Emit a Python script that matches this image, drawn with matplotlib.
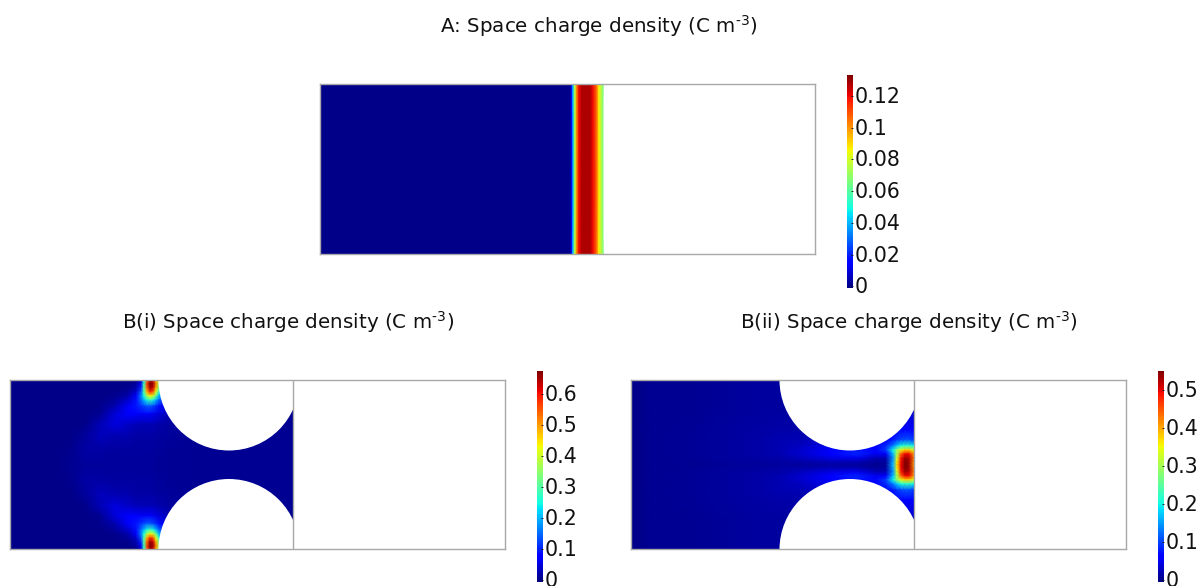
import numpy as np
import matplotlib
matplotlib.use('Agg')
import matplotlib.pyplot as plt
from matplotlib.patches import Circle
from matplotlib.transforms import ScaledTranslation

# DATA
title_a = r'A: Space charge density (C m$^{\text{-3}}$)'
title_b1 = r'B(i) Space charge density (C m$^{\text{-3}}$)'
title_b2 = r'B(ii) Space charge density (C m$^{\text{-3}}$)'

# panel A, charge profile along x (px from left of box), C/m3
a_x = [0, 250, 251, 252, 253, 255, 257, 259, 262, 270, 273, 277, 279, 283]
a_rho = [0, 0, 0.006, 0.018, 0.04, 0.076, 0.104, 0.12, 0.128, 0.128, 0.12, 0.104, 0.087, 0.066]
a_ticks = [0, 0.02, 0.04, 0.06, 0.08, 0.1, 0.12]
a_ticklabels = ['0', '0.02', '0.04', '0.06', '0.08', '0.1', '0.12']
a_max = 0.1333
a_low = -0.0011

# panel B(i), top half of the symmetric field as fraction of the peak
b1_x = [0, 45, 60, 75, 90, 105, 118, 126, 131, 134, 137, 140, 143, 146, 149, 160, 200, 283]
b1_y = [0, 4, 8, 12, 16, 20, 26, 34, 44, 56, 70, 85]
b1_frac = [
    [0, 0, 0, 0, 0, 0, 0, 0, .04, .38, .80, .97, .92, .70, .52, .20, .01, .01],
    [0, 0, 0, 0, 0, 0, 0, .02, .10, .42, .84, 1.0, .98, .78, .55, .20, .01, .01],
    [0, 0, 0, 0, 0, 0, .005, .03, .15, .45, .80, .97, .94, .72, .50, .18, .01, .01],
    [0, 0, 0, 0, 0, 0, .015, .06, .20, .44, .72, .86, .82, .62, .40, .15, .01, .01],
    [0, 0, 0, 0, 0, .005, .03, .10, .24, .38, .55, .64, .60, .46, .30, .12, .01, .01],
    [0, 0, 0, 0, 0, .015, .06, .13, .22, .30, .38, .42, .38, .30, .22, .10, .01, .01],
    [0, 0, 0, 0, .005, .03, .10, .14, .17, .19, .21, .21, .19, .16, .13, .07, .01, .01],
    [0, 0, 0, 0, .01, .07, .11, .11, .10, .10, .10, .10, .09, .08, .07, .035, .01, .01],
    [0, 0, 0, 0, .04, .075, .055, .045, .04, .04, .04, .04, .04, .035, .03, .02, .01, .01],
    [0, 0, 0, .015, .045, .035, .03, .025, .025, .025, .025, .025, .025, .02, .02, .015, .01, .01],
    [0, 0, .004, .025, .025, .02, .02, .018, .018, .018, .018, .018, .018, .016, .015, .012, .01, .01],
    [0, .001, .01, .015, .015, .015, .015, .015, .015, .015, .015, .015, .015, .014, .013, .012, .01, .01],
]
b1_ticks = [0, 0.1, 0.2, 0.3, 0.4, 0.5, 0.6]
b1_ticklabels = ['0', '0.1', '0.2', '0.3', '0.4', '0.5', '0.6']
b1_max = 0.674
b1_low = -0.0065

# panel B(ii), same idea, hot spot on the right boundary
b2_x = [0, 20, 60, 100, 130, 148, 170, 200, 225, 245, 255, 262, 266, 270, 274, 278, 283]
b2_y = [0, 30, 50, 60, 66, 70, 74, 78, 82, 85]
b2_frac = [
    [0, .01, .01, .015, .02, .02, .02, .02, .02, .02, .02, .02, .02, .02, .02, .02, .02],
    [0, .01, .01, .015, .02, .02, .02, .02, .02, .03, .04, .05, .05, .06, .06, .06, .05],
    [0, .01, .012, .02, .025, .03, .03, .03, .04, .05, .08, .10, .11, .12, .12, .12, .10],
    [0, .01, .012, .02, .03, .035, .04, .06, .08, .09, .11, .14, .17, .19, .20, .20, .17],
    [0, .01, .012, .02, .03, .035, .05, .09, .11, .12, .16, .24, .32, .38, .40, .40, .36],
    [0, .01, .012, .02, .03, .035, .06, .12, .14, .12, .18, .36, .52, .62, .68, .68, .60],
    [0, .01, .012, .02, .03, .035, .06, .12, .15, .09, .10, .30, .55, .80, .90, .90, .74],
    [0, .01, .012, .02, .025, .03, .05, .08, .09, .04, .04, .26, .60, .88, .97, .95, .78],
    [0, .01, .01, .015, .02, .025, .03, .04, .035, .015, .02, .28, .65, .90, 1.0, .97, .76],
    [0, .01, .01, .015, .015, .02, .02, .025, .02, .01, .015, .30, .68, .90, 1.0, .97, .74],
]
b2_ticks = [0, 0.1, 0.2, 0.3, 0.4, 0.5]
b2_ticklabels = ['0', '0.1', '0.2', '0.3', '0.4', '0.5']
b2_max = 0.55
b2_low = -0.005

W, H = 1198, 586
BOX_W, BOX_H = 495, 170
EDGE = '#a8a8a8'
TEXT = '#111111'
FS_TITLE = 14.35
FS_TICK = 14.8


def px_axes(fig, left, top, width, height):
    return fig.add_axes([left / W, 1 - (top + height) / H, width / W, height / H])


def box_axes(fig, left, top, width=BOX_W, height=BOX_H):
    ax = px_axes(fig, left, top, width, height)
    ax.set_xlim(0, width)
    ax.set_ylim(height, 0)
    ax.set_xticks([])
    ax.set_yticks([])
    for s in ax.spines.values():
        s.set_color(EDGE)
        s.set_linewidth(1.0)
        s.set_zorder(5)
    return ax


def add_cbar(fig, mesh, left, top, height, ticks, labels):
    cax = px_axes(fig, left, top, 6, height)
    cb = fig.colorbar(mesh, cax=cax)
    cb.outline.set_visible(False)
    cb.set_ticks(ticks)
    cb.set_ticklabels(labels)
    cb.ax.tick_params(length=1.5, width=0.6, direction='in', pad=1.5,
                      labelsize=FS_TICK, colors=TEXT)
    # labels sit a pixel above their ticks in the original
    nudge = ScaledTranslation(0, 1 / 100, fig.dpi_scale_trans)
    for lab in cb.ax.get_yticklabels():
        lab.set_transform(lab.get_transform() + nudge)


def channel_panel(fig, left, top, xs, ys, frac, peak, low):
    ax = box_axes(fig, left, top, 494.5, 169)
    half = np.array(frac) * peak
    # mirror the top half about the centre line
    field = np.vstack([half, half[-2::-1]])
    y_all = list(ys) + [BOX_H - v for v in ys[-2::-1]]
    mesh = ax.pcolormesh(xs, y_all, field, shading='gouraud', cmap='jet', vmin=low, vmax=peak)
    ax.set_ylim(169, 0)
    for cy in (0, 169.5):
        ax.add_patch(Circle((219, cy), 70.5, fc='white', ec='none', zorder=3))
    ax.axvline(282.5, color=EDGE, lw=1.0, zorder=4)
    return mesh


fig = plt.figure(figsize=(W / 100, H / 100), dpi=100)

# A
ax_a = box_axes(fig, 320, 84)
a_field = np.vstack([a_rho, a_rho])
mesh_a = ax_a.pcolormesh(a_x, [0, BOX_H], a_field, shading='gouraud', cmap='jet', vmin=a_low, vmax=a_max)
add_cbar(fig, mesh_a, 847, 75, 213, a_ticks, a_ticklabels)

# B(i)
mesh_b1 = channel_panel(fig, 10, 380, b1_x, b1_y, b1_frac, b1_max, b1_low)
add_cbar(fig, mesh_b1, 537, 371, 211, b1_ticks, b1_ticklabels)

# B(ii)
mesh_b2 = channel_panel(fig, 631, 380, b2_x, b2_y, b2_frac, b2_max, b2_low)
add_cbar(fig, mesh_b2, 1158, 371, 211, b2_ticks, b2_ticklabels)

fig.text(599 / W, 1 - 26 / H, title_a, ha='center', va='center', fontsize=FS_TITLE, color=TEXT)
fig.text(288 / W, 1 - 322 / H, title_b1, ha='center', va='center', fontsize=FS_TITLE, color=TEXT)
fig.text(909 / W, 1 - 322 / H, title_b2, ha='center', va='center', fontsize=FS_TITLE, color=TEXT)

fig.savefig('out.png', dpi=100)
